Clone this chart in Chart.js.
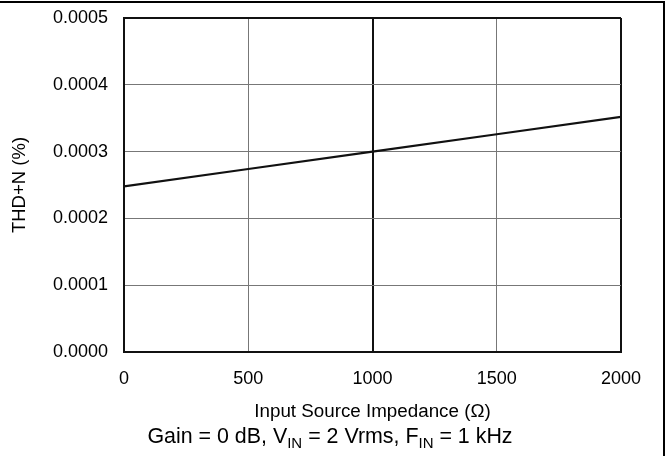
<!DOCTYPE html>
<html>
<head>
<meta charset="utf-8">
<script src="https://cdn.jsdelivr.net/npm/chart.js@4.4.1/dist/chart.umd.min.js"></script>
<style>
  html, body { margin: 0; padding: 0; background: #fff; }
  #wrap { position: relative; width: 669px; height: 456px; overflow: hidden; }
  #frame { position: absolute; left: 0; top: 1px; width: 665px; height: 460px;
           border-top: 2px solid #000; border-right: 2px solid #000; box-sizing: border-box; pointer-events: none; }
  #caption { position: absolute; left: 0; width: 660px; top: 424px; text-align: center;
             font-family: "Liberation Sans", Arial, sans-serif; font-size: 21.4px; color: #000; line-height: 24px; }
  #caption sub { font-size: 15px; vertical-align: -5px; line-height: 0; }
  canvas { position: absolute; left: 0; top: 0; }
</style>
</head>
<body>
<div id="wrap">
  <canvas id="c" width="669" height="456"></canvas>
  <div id="frame"></div>
  <div id="caption">Gain = 0 dB, V<sub>IN</sub> = 2 Vrms, F<sub>IN</sub> = 1 kHz</div>
</div>
<script>
const impedance = [0, 500, 1000, 1500, 2000];
const thdn = [0.000248, 0.000274, 0.000300, 0.000326, 0.000352];
const xTicks = [0, 500, 1000, 1500, 2000];
const yTicks = [0, 0.0001, 0.0002, 0.0003, 0.0004, 0.0005];
const xTitle = 'Input Source Impedance (\u03A9)';
const yTitle = 'THD+N (%)';

const FONT = '"Liberation Sans", Arial, sans-serif';

new Chart(document.getElementById('c'), {
  type: 'line',
  data: {
    datasets: [{
      data: impedance.map((x, i) => ({ x: x, y: thdn[i] })),
      borderColor: '#111',
      borderWidth: 2.2,
      pointRadius: 0,
      tension: 0,
      fill: false
    }]
  },
  options: {
    responsive: false,
    animation: false,
    devicePixelRatio: 1,
    layout: { padding: { left: 0, top: 18, right: 48, bottom: 33 } },
    plugins: { legend: { display: false }, tooltip: { enabled: false } },
    scales: {
      x: {
        type: 'linear',
        min: 0, max: 2000,
        afterBuildTicks: s => { s.ticks = xTicks.map(v => ({ value: v })); },
        afterFit: s => { s.height = 71; s.paddingLeft = 0; s.paddingRight = 0; },
        ticks: { color: '#000', font: { family: FONT, size: 18 }, padding: 16, maxRotation: 0,
                 callback: v => String(v) },
        grid: {
          drawTicks: false,
          color: c => (c.tick && (c.tick.value === 1000 || c.tick.value === 2000)) ? '#111' : '#777',
          lineWidth: c => (c.tick && (c.tick.value === 1000 || c.tick.value === 2000)) ? 2 : 1
        },
        border: { color: '#111', width: 2 },
        title: { display: true, text: xTitle, color: '#000', font: { family: FONT, size: 18.8 }, padding: { top: 0, bottom: 0 } }
      },
      y: {
        type: 'linear',
        min: 0, max: 0.0005,
        afterBuildTicks: s => { s.ticks = yTicks.map(v => ({ value: v })); },
        afterFit: s => { s.width = 124; s.paddingTop = 0; s.paddingBottom = 0; },
        ticks: { color: '#000', font: { family: FONT, size: 18 }, padding: 16,
                 callback: v => v.toFixed(4) },
        grid: {
          drawTicks: false,
          color: c => (c.tick && c.tick.value >= 0.0005 - 1e-9) ? '#111' : '#777',
          lineWidth: c => (c.tick && c.tick.value >= 0.0005 - 1e-9) ? 2 : 1
        },
        border: { color: '#111', width: 2 },
        title: { display: true, text: yTitle, color: '#000', font: { family: FONT, size: 18.5 }, padding: { top: 9, bottom: 0 } }
      }
    }
  }
});
</script>
</body>
</html>
